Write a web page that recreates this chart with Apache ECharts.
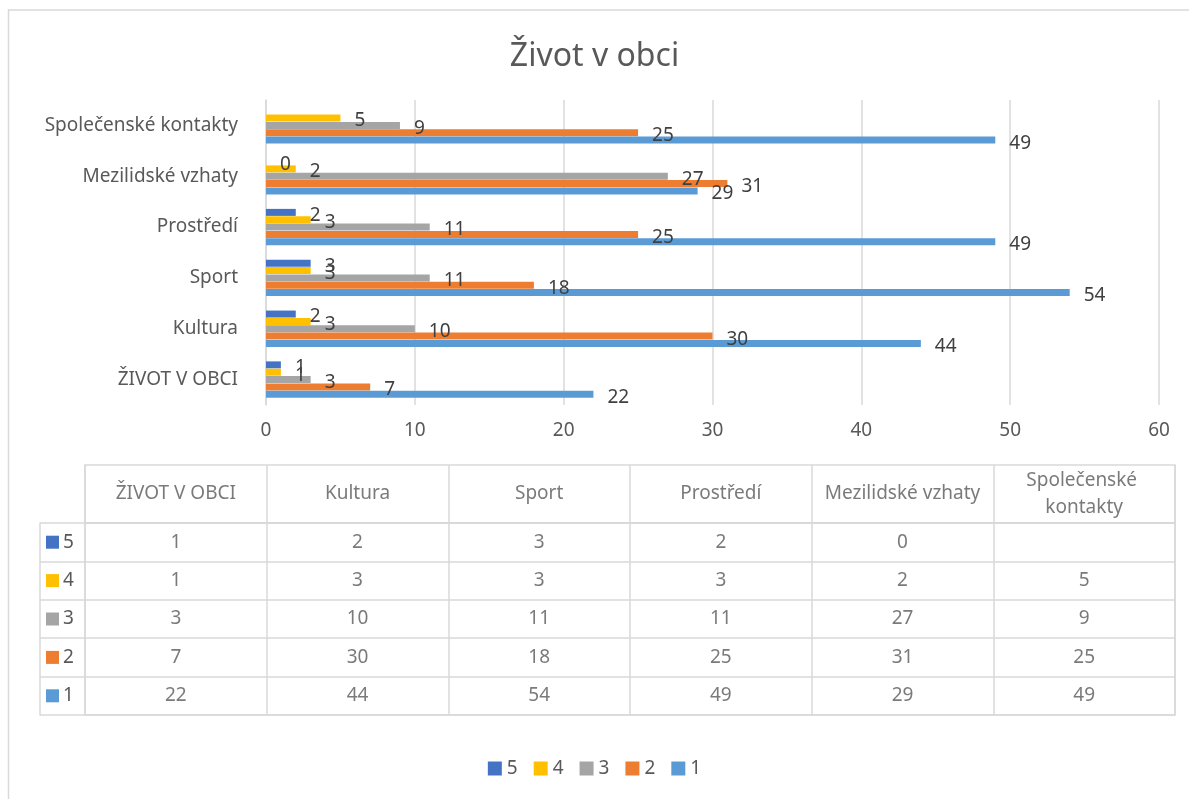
<!DOCTYPE html>
<html>
<head>
<meta charset="utf-8">
<script src="https://cdn.jsdelivr.net/npm/echarts@6/dist/echarts.min.js"></script>
<style>
  html, body { margin: 0; padding: 0; background: #fff; }
  #chart { width: 1189px; height: 799px; }
</style>
</head>
<body>
<div id="chart"></div>
<script>
// Život v obci - kategorie (odspodu nahoru)
var categories = ['ŽIVOT V OBCI', 'Kultura', 'Sport', 'Prostředí', 'Mezilidské vzhaty', 'Společenské kontakty'];
var seriesNames = ['5', '4', '3', '2', '1'];
var s5 = [1, 2, 3, 2, 0, '-'];
var s4 = [1, 3, 3, 3, 2, 5];
var s3 = [3, 10, 11, 11, 27, 9];
var s2 = [7, 30, 18, 25, 31, 25];
var s1 = [22, 44, 54, 49, 29, 49];
var xTicks = [0, 10, 20, 30, 40, 50, 60];
var colors = ['#4472C4', '#FFC000', '#A5A5A5', '#ED7D31', '#5B9BD5'];

var allData = [s5, s4, s3, s2, s1];
var font = 'Noto Sans';
var txt = '#595959';
var lineCol = '#d9d9d9';
var fs = 19;

var chart = echarts.init(document.getElementById('chart'));

var series = [];
for (var i = 0; i < seriesNames.length; i++) {
    series.push({
        name: seriesNames[i],
        type: 'bar',
        xAxisIndex: 0,
        yAxisIndex: 0,
        barWidth: 7,
        barGap: '5%',
        itemStyle: { color: colors[i] },
        label: {
            show: true, position: 'right', distance: 14, offset: [0, 3],
            fontFamily: font, fontSize: fs, color: '#404040'
        },
        data: allData[i]
    });
}

// tabulka - hodnoty
var cellData = [];
for (var r = 0; r < seriesNames.length; r++) {
    for (var c = 0; c < categories.length; c++) {
        if (allData[r][c] === '-') continue;
        cellData.push([categories[c], seriesNames[r], allData[r][c]]);
    }
}
series.push({
    type: 'scatter',
    xAxisIndex: 1,
    yAxisIndex: 1,
    symbolSize: 1,
    itemStyle: { color: 'rgba(0,0,0,0)' },
    silent: true,
    label: {
        show: true, position: 'inside', fontFamily: font, fontSize: fs, color: txt,
        formatter: function (p) { return p.data[2]; }
    },
    data: cellData
});
// tabulka - hlavicka
series.push({
    type: 'scatter',
    xAxisIndex: 2,
    yAxisIndex: 2,
    symbolSize: 1,
    itemStyle: { color: 'rgba(0,0,0,0)' },
    silent: true,
    label: {
        show: true, position: 'inside', fontFamily: font, fontSize: fs, color: txt,
        width: 180, overflow: 'break', align: 'center', lineHeight: 27,
        formatter: function (p) { return p.data[0]; }
    },
    data: categories.map(function (c) { return [c, 'h']; })
});

var rich = { t: { fontFamily: font, fontSize: fs, color: txt, padding: [0, 0, 0, 4] } };
for (var k = 0; k < seriesNames.length; k++) {
    rich['s' + seriesNames[k]] = { width: 13, height: 13, backgroundColor: colors[k] };
}

var option = {
    backgroundColor: '#fff',
    animation: false,
    title: {
        text: 'Život v obci',
        left: 'center',
        top: 36,
        textStyle: { fontFamily: font, fontSize: 32, fontWeight: 'normal', color: txt }
    },
    legend: {
        data: seriesNames,
        bottom: 16,
        left: 'center',
        itemWidth: 14,
        itemHeight: 14,
        itemGap: 16,
        icon: 'rect',
        textStyle: { fontFamily: font, fontSize: fs, color: txt }
    },
    graphic: [{
        type: 'rect',
        shape: { x: 8.5, y: 10, width: 1200, height: 1000 },
        style: { fill: 'none', stroke: lineCol, lineWidth: 1.5 },
        silent: true
    }],
    grid: [
        { left: 266, top: 100, width: 893, height: 305 },
        { left: 85, top: 523, width: 1090, height: 192, show: true, borderColor: lineCol, borderWidth: 1.5 },
        { left: 85, top: 465, width: 1090, height: 58, show: true, borderColor: lineCol, borderWidth: 1.5 }
    ],
    xAxis: [
        {
            gridIndex: 0, type: 'value', min: xTicks[0], max: xTicks[xTicks.length - 1], interval: 10,
            axisLine: { show: false }, axisTick: { show: false },
            splitLine: { lineStyle: { color: lineCol, width: 1.5 } },
            axisLabel: { fontFamily: font, fontSize: fs, color: txt, margin: 16 }
        },
        {
            gridIndex: 1, type: 'category', data: categories,
            axisLine: { show: false }, axisTick: { show: false }, axisLabel: { show: false },
            splitLine: { show: true, lineStyle: { color: lineCol, width: 1.5 } }
        },
        {
            gridIndex: 2, type: 'category', data: categories,
            axisLine: { show: false }, axisTick: { show: false }, axisLabel: { show: false },
            splitLine: { show: true, lineStyle: { color: lineCol, width: 1.5 } }
        }
    ],
    yAxis: [
        {
            gridIndex: 0, type: 'category', data: categories,
            axisLine: { show: true, lineStyle: { color: lineCol, width: 1.5 } },
            axisTick: { show: false },
            axisLabel: { fontFamily: font, fontSize: fs, color: txt, margin: 28 }
        },
        {
            gridIndex: 1, type: 'category', data: seriesNames, inverse: true,
            axisLine: { show: false },
            axisTick: { show: true, length: 45, lineStyle: { color: lineCol, width: 1.5 } },
            splitLine: { show: true, lineStyle: { color: lineCol, width: 1.5 } },
            axisLabel: {
                align: 'left', margin: 39,
                formatter: function (v) { return '{s' + v + '|}{t|' + v + '}'; },
                rich: rich
            }
        },
        {
            gridIndex: 2, type: 'category', data: ['h'],
            axisLine: { show: false }, axisTick: { show: false }, axisLabel: { show: false }
        },
        {
            gridIndex: 1, type: 'category', data: seriesNames, position: 'left', offset: 45,
            axisLine: { show: true, lineStyle: { color: lineCol, width: 1.5 } },
            axisTick: { show: false }, axisLabel: { show: false }
        }
    ],
    series: series
};

chart.setOption(option);
</script>
</body>
</html>
